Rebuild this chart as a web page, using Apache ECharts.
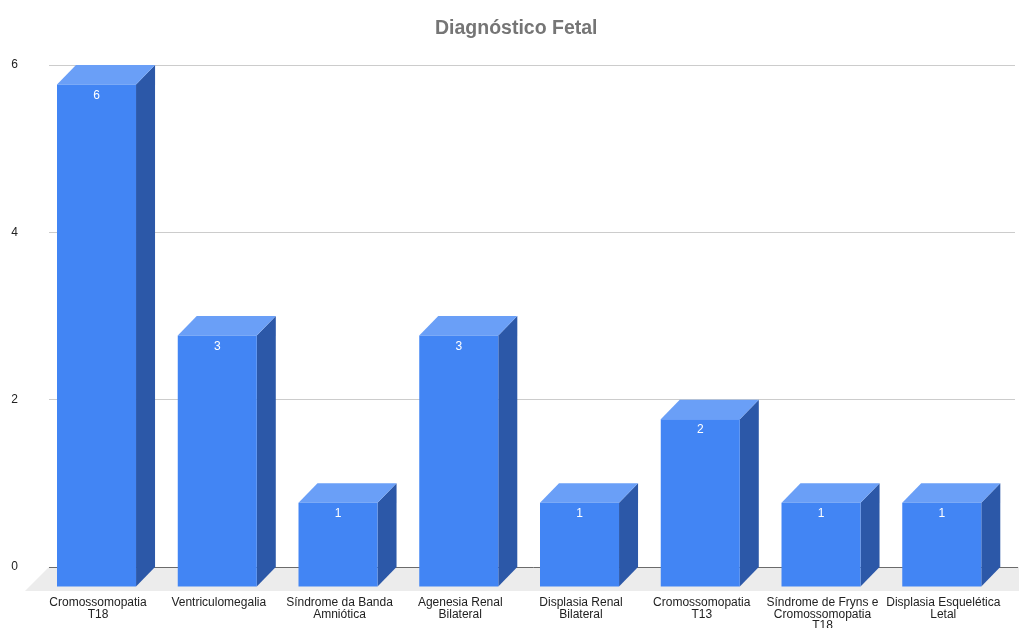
<!DOCTYPE html>
<html>
<head>
<meta charset="utf-8">
<title>Diagnóstico Fetal</title>
<script src="https://cdn.jsdelivr.net/npm/echarts@6/dist/echarts.min.js"></script>
<style>
  html, body { margin: 0; padding: 0; background: #ffffff; }
  #chart { width: 1019px; height: 628px; }
</style>
</head>
<body>
<div id="chart"></div>
<script>
// Diagnoses and their counts
const categories = [
  'Cromossomopatia\nT18',
  'Ventriculomegalia',
  'Síndrome da Banda\nAmniótica',
  'Agenesia Renal\nBilateral',
  'Displasia Renal\nBilateral',
  'Cromossomopatia\nT13',
  'Síndrome de Fryns e\nCromossomopatia\nT18',
  'Displasia Esquelética\nLetal'
];
const values = [6, 3, 1, 3, 1, 2, 1, 1];
const yTicks = [0, 2, 4, 6];
const titleText = 'Diagnóstico Fetal';

const FONT = '"Liberation Sans", Arial, Helvetica, sans-serif';
const FRONT = '#4285f4';
const TOP = '#6a9ff7';
const SIDE = '#2c58a8';
const DEPTH_X = 19;    // extrusion of each bar, in pixels
const DEPTH_Y = 19.5;
const FLOOR_D = 24;    // depth of the floor slab

const chart = echarts.init(document.getElementById('chart'), null, { renderer: 'canvas' });

// Floor slab and baseline, drawn behind the bars
function renderFloor(params, api) {
  const cs = params.coordSys;
  const y0 = api.coord([0, 0])[1];
  const xl = cs.x, xr = cs.x + cs.width;
  return {
    type: 'group',
    children: [
      {
        type: 'polygon',
        shape: { points: [[xl, y0], [xr + 40, y0], [xr + 40 - FLOOR_D, y0 + FLOOR_D], [xl - FLOOR_D, y0 + FLOOR_D]] },
        style: { fill: '#ececec' }
      },
      {
        type: 'line',
        shape: { x1: xl, y1: Math.round(y0) + 0.5, x2: xr + 3, y2: Math.round(y0) + 0.5 },
        style: { stroke: '#6b6b6b', lineWidth: 1 }
      }
    ]
  };
}

// Extruded bar: front face, top face, right side, value and category labels
function renderBar(params, api) {
  const i = api.value(0);
  const v = api.value(1);
  const base = api.coord([i, 0]);
  const top = api.coord([i, v]);
  const bw = api.size([1, 0])[0];
  const w = bw * 0.6545;
  const fl = base[0] - bw * 0.4337;
  const fr = fl + w;
  const ft = top[1] + DEPTH_Y;
  const fb = base[1] + DEPTH_Y;
  return {
    type: 'group',
    children: [
      {
        type: 'polygon',
        shape: { points: [[fr, ft], [fr + DEPTH_X, top[1]], [fr + DEPTH_X, base[1]], [fr, fb]] },
        style: { fill: SIDE }
      },
      {
        type: 'polygon',
        shape: { points: [[fl, ft], [fl + DEPTH_X, top[1]], [fr + DEPTH_X, top[1]], [fr, ft]] },
        style: { fill: TOP }
      },
      {
        type: 'rect',
        shape: { x: fl, y: ft, width: w, height: fb - ft },
        style: { fill: FRONT }
      },
      {
        type: 'text',
        style: {
          x: fl + w / 2, y: ft + 11,
          text: String(v),
          fill: '#ffffff', font: '12px ' + FONT,
          align: 'center', verticalAlign: 'middle'
        }
      },
      {
        type: 'text',
        style: {
          x: fl + w / 2 + 1.5, y: base[1] + 30,
          text: categories[i],
          fill: '#222222', font: '12px ' + FONT,
          lineHeight: 11.5,
          align: 'center', verticalAlign: 'top'
        }
      }
    ]
  };
}

const option = {
  animation: false,
  backgroundColor: '#ffffff',
  title: {
    text: titleText,
    left: 430,
    top: 14,
    textStyle: { fontFamily: FONT, fontSize: 19.5, fontWeight: 'bold', color: '#757575' }
  },
  grid: { left: 49, right: 4, top: 65, bottom: 61, containLabel: false },
  xAxis: {
    type: 'category',
    data: categories,
    axisLine: { show: false },
    axisTick: { show: false },
    axisLabel: { show: false },
    splitLine: { show: false }
  },
  yAxis: {
    type: 'value',
    min: yTicks[0],
    max: yTicks[yTicks.length - 1],
    interval: yTicks[1] - yTicks[0],
    axisLine: { show: false },
    axisTick: { show: false },
    axisLabel: { margin: 31, color: '#222222', fontFamily: FONT, fontSize: 12 },
    splitLine: { lineStyle: { color: '#cccccc', width: 1 } }
  },
  series: [
    {
      type: 'custom',
      z: 1,
      silent: true,
      renderItem: renderFloor,
      data: [[0, 0]]
    },
    {
      type: 'custom',
      z: 2,
      renderItem: renderBar,
      encode: { x: 0, y: 1 },
      data: values.map((v, i) => [i, v])
    }
  ]
};

chart.setOption(option);
</script>
</body>
</html>
